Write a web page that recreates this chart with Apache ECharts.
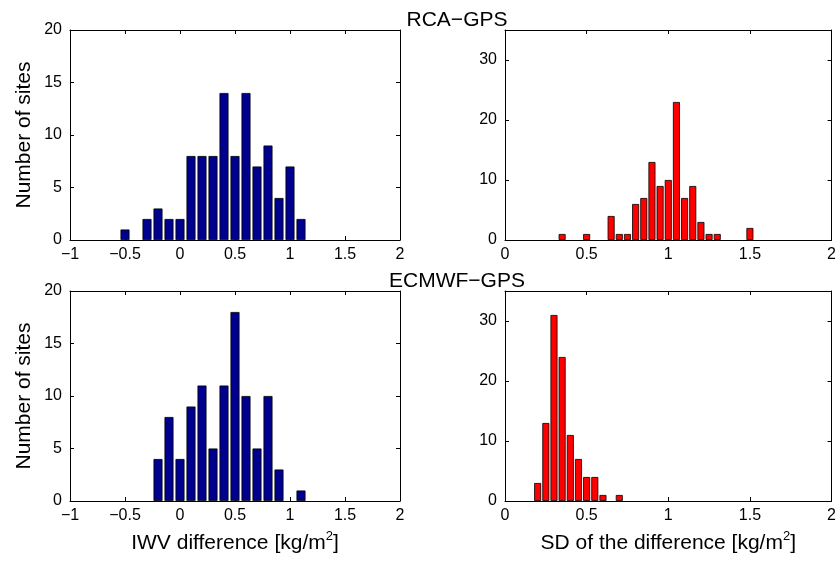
<!DOCTYPE html>
<html>
<head>
<meta charset="utf-8">
<script src="https://cdn.jsdelivr.net/npm/echarts@6/dist/echarts.min.js"></script>
<style>
html,body{margin:0;padding:0;background:#fff;}
#c{width:839px;height:561px;}
</style>
</head>
<body>
<div id="c"></div>
<script>
// Panel titles and axis texts
const rowTitles = ['RCA\u2212GPS', 'ECMWF\u2212GPS'];
const yAxisTitle = 'Number of sites';
const xTitleLeft = ['IWV difference [kg/m', '2', ']'];
const xTitleRight = ['SD of the difference [kg/m', '2', ']'];

// Tick settings
const biasXTicks = { min: -1, max: 2, interval: 0.5 };
const sdXTicks = { min: 0, max: 2, interval: 0.5 };
const biasYTicks = { min: 0, max: 20, interval: 5 };
const sdYTicks = { min: 0, max: 35, interval: 10 };

// RCA-GPS mean difference histogram (bin centres, counts)
const rcaBiasX = [-0.5, -0.3, -0.2, -0.1, 0.0, 0.1, 0.2, 0.3, 0.4, 0.5, 0.6, 0.7, 0.8, 0.9, 1.0, 1.1];
const rcaBiasN = [1, 2, 3, 2, 2, 8, 8, 8, 14, 8, 14, 7, 9, 4, 7, 2];

// RCA-GPS SD histogram
const rcaSdX = [0.35, 0.5, 0.65, 0.7, 0.75, 0.8, 0.85, 0.9, 0.95, 1.0, 1.05, 1.1, 1.15, 1.2, 1.25, 1.3, 1.5];
const rcaSdN = [1, 1, 4, 1, 1, 6, 7, 13, 9, 10, 23, 7, 9, 3, 1, 1, 2];

// ECMWF-GPS mean difference histogram
const ecBiasX = [-0.2, -0.1, 0.0, 0.1, 0.2, 0.3, 0.4, 0.5, 0.6, 0.7, 0.8, 0.9, 1.1];
const ecBiasN = [4, 8, 4, 9, 11, 5, 11, 18, 10, 5, 10, 3, 1];

// ECMWF-GPS SD histogram
const ecSdX = [0.2, 0.25, 0.3, 0.35, 0.4, 0.45, 0.5, 0.55, 0.6, 0.7];
const ecSdN = [3, 13, 31, 24, 11, 7, 4, 4, 1, 1];

const FONT = '"Liberation Sans", Helvetica, Arial, sans-serif';
const BLUE = '#00008f';
const RED = '#ff0000';

function fmt(v) {
  let s = String(Math.round(v * 10) / 10);
  return s.replace('-', '\u2212');
}

const grids = [
  { left: 70, top: 30, width: 330, height: 210 },
  { left: 505, top: 30, width: 330, height: 210 },
  { left: 70, top: 291, width: 330, height: 210 },
  { left: 505, top: 291, width: 330, height: 210 }
];

const panels = [
  { x: biasXTicks, y: biasYTicks, xs: rcaBiasX, ys: rcaBiasN, color: BLUE, bw: 9, yName: yAxisTitle, xName: null },
  { x: sdXTicks, y: sdYTicks, xs: rcaSdX, ys: rcaSdN, color: RED, bw: 7, yName: null, xName: null },
  { x: biasXTicks, y: biasYTicks, xs: ecBiasX, ys: ecBiasN, color: BLUE, bw: 9, yName: yAxisTitle, xName: xTitleLeft },
  { x: sdXTicks, y: sdYTicks, xs: ecSdX, ys: ecSdN, color: RED, bw: 7, yName: null, xName: xTitleRight }
];

const xAxes = [], yAxes = [], series = [];
const lineStyle = { color: '#000', width: 1 };
const labelStyle = { color: '#000', fontSize: 16, fontFamily: FONT };

panels.forEach((p, i) => {
  const xName = p.xName ? '{a|' + p.xName[0] + '}{s|' + p.xName[1] + '}{a|' + p.xName[2] + '}' : '';
  xAxes.push({
    gridIndex: i, type: 'value', position: 'bottom',
    min: p.x.min, max: p.x.max, interval: p.x.interval,
    axisLine: { show: true, onZero: false, lineStyle },
    axisTick: { show: true, inside: true, length: 4, lineStyle },
    splitLine: { show: false },
    axisLabel: Object.assign({ margin: 7, formatter: fmt }, labelStyle),
    name: xName, nameLocation: 'middle', nameGap: 29,
    nameTextStyle: {
      rich: {
        a: { fontSize: 21, fontFamily: FONT, color: '#000', verticalAlign: 'bottom', lineHeight: 24 },
        s: { fontSize: 13, fontFamily: FONT, color: '#000', verticalAlign: 'top', lineHeight: 14 }
      }
    }
  });
  xAxes.push({
    gridIndex: i, type: 'value', position: 'top',
    min: p.x.min, max: p.x.max, interval: p.x.interval,
    axisLine: { show: true, onZero: false, lineStyle },
    axisTick: { show: true, inside: true, length: 4, lineStyle },
    splitLine: { show: false }, axisLabel: { show: false }
  });
  yAxes.push({
    gridIndex: i, type: 'value', position: 'left',
    min: p.y.min, max: p.y.max, interval: p.y.interval,
    axisLine: { show: true, onZero: false, lineStyle },
    axisTick: { show: true, inside: true, length: 4, lineStyle },
    splitLine: { show: false },
    axisLabel: Object.assign({ margin: 8, showMaxLabel: p.y.max % p.y.interval === 0 }, labelStyle),
    name: p.yName || '', nameLocation: 'middle', nameGap: 35, nameRotate: 90,
    nameTextStyle: { fontSize: 21, fontFamily: FONT, color: '#000' }
  });
  yAxes.push({
    gridIndex: i, type: 'value', position: 'right',
    min: p.y.min, max: p.y.max, interval: p.y.interval,
    axisLine: { show: true, onZero: false, lineStyle },
    axisTick: { show: true, inside: true, length: 4, lineStyle },
    splitLine: { show: false }, axisLabel: { show: false }
  });
  series.push({
    type: 'bar',
    xAxisIndex: i * 2, yAxisIndex: i * 2,
    data: p.xs.map((x, k) => [x, p.ys[k]]),
    barWidth: p.bw,
    itemStyle: { color: p.color, borderColor: '#000', borderWidth: 0.8 },
    silent: true
  });
});

const chart = echarts.init(document.getElementById('c'), null, { renderer: 'canvas' });
chart.setOption({
  animation: false,
  backgroundColor: '#fff',
  title: [
    { text: rowTitles[0], left: 452, top: 5, textAlign: 'center', textStyle: { fontSize: 21, fontWeight: 'normal', fontFamily: FONT, color: '#000' } },
    { text: rowTitles[1], left: 452, top: 266, textAlign: 'center', textStyle: { fontSize: 21, fontWeight: 'normal', fontFamily: FONT, color: '#000' } }
  ],
  grid: grids,
  xAxis: xAxes,
  yAxis: yAxes,
  series
});
</script>
</body>
</html>
